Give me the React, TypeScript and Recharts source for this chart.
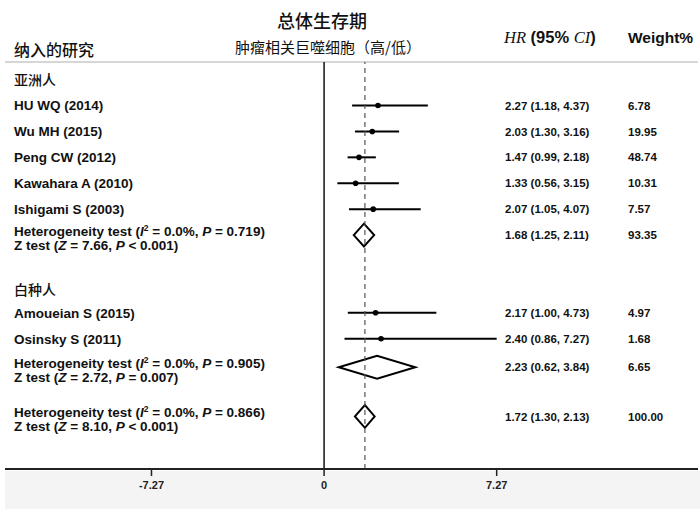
import React from "react";
import {
  ScatterChart,
  Scatter,
  XAxis,
  YAxis,
  ReferenceLine,
  ReferenceArea,
} from "recharts";

// studies (row = position in the table, 0 = first group header)
const studyNames = [
  "HU WQ (2014)",
  "Wu MH (2015)",
  "Peng CW (2012)",
  "Kawahara A (2010)",
  "Ishigami S (2003)",
  "Amoueian S (2015)",
  "Osinsky S (2011)",
];
const studyRows = [1, 2, 3, 4, 5, 9, 10];
const studyHR = [2.27, 2.03, 1.47, 1.33, 2.07, 2.17, 2.4];
const studyLo = [1.18, 1.3, 0.99, 0.56, 1.05, 1.0, 0.86];
const studyHi = [4.37, 3.16, 2.18, 3.15, 4.07, 4.73, 7.27];
const studyWeight = ["6.78", "19.95", "48.74", "10.31", "7.57", "4.97", "1.68"];

// pooled estimates
const summaryRows = [6, 11.1, 13];
const summaryHR = [1.68, 2.23, 1.72];
const summaryLo = [1.25, 0.62, 1.3];
const summaryHi = [2.11, 3.84, 2.13];
const summaryWeight = ["93.35", "6.65", "100.00"];
const hetI2 = ["0.0%", "0.0%", "0.0%"];
const hetP = ["0.719", "0.905", "0.866"];
const zValue = ["7.66", "2.72", "8.10"];
const zP = ["< 0.001", "= 0.007", "< 0.001"];

const groupNames = ["亚洲人", "白种人"];
const groupRows = [0, 8.1];

const xTicks = [-7.27, 0, 7.27];
const overallHR = 1.72;

const X_DOMAIN: [number, number] = [-13.44, 15.75];
const Y_DOMAIN: [number, number] = [-0.68, 15.03];

const SANS = "'Liberation Sans', Arial, 'Noto Sans CJK SC', sans-serif";
const CJK = "'Noto Sans CJK SC', 'Liberation Sans', sans-serif";
const SERIF = "'Liberation Serif', 'Times New Roman', serif";

type LabelRow = {
  x: number;
  y: number;
  kind: "group" | "study" | "summary";
  idx: number;
};

const labelRows: LabelRow[] = [
  ...groupRows.map((r, i) => ({ x: 0, y: r, kind: "group" as const, idx: i })),
  ...studyRows.map((r, i) => ({ x: 0, y: r, kind: "study" as const, idx: i })),
  ...summaryRows.map((r, i) => ({ x: 0, y: r, kind: "summary" as const, idx: i })),
];

const pointData = studyHR.map((hr, i) => ({ x: hr, y: studyRows[i] }));

const LEFT_X = 14;
const HR_X = 505;
const WT_X = 628;

function RowLabel(props: any) {
  const { cy, payload } = props;
  const p = payload as LabelRow;
  const base = { fontFamily: SANS, fontWeight: 700, fill: "#111" };
  if (p.kind === "group") {
    return (
      <text x={LEFT_X} y={cy} dy="0.36em" fontSize={14} fontFamily={CJK} fontWeight={500} fill="#111">
        {groupNames[p.idx]}
      </text>
    );
  }
  if (p.kind === "study") {
    const i = p.idx;
    return (
      <g>
        <text x={LEFT_X} y={cy} dy="0.36em" fontSize={13.5} {...base}>
          {studyNames[i]}
        </text>
        <text x={HR_X} y={cy} dy="0.36em" fontSize={11.5} {...base}>
          {`${studyHR[i].toFixed(2)} (${studyLo[i].toFixed(2)}, ${studyHi[i].toFixed(2)})`}
        </text>
        <text x={WT_X} y={cy} dy="0.36em" fontSize={11.5} {...base}>
          {studyWeight[i]}
        </text>
      </g>
    );
  }
  const i = p.idx;
  return (
    <g>
      <text x={LEFT_X} y={cy - 4} dy="0.36em" fontSize={13.5} {...base}>
        Heterogeneity test (<tspan fontStyle="italic">I</tspan>
        <tspan dy={-5} fontSize={8.5}>2</tspan>
        <tspan dy={5}>{` = ${hetI2[i]}, `}</tspan>
        <tspan fontStyle="italic">P</tspan>
        {` = ${hetP[i]})`}
      </text>
      <text x={LEFT_X} y={cy + 10} dy="0.36em" fontSize={13.5} {...base}>
        Z test (<tspan fontStyle="italic">Z</tspan>
        {` = ${zValue[i]}, `}
        <tspan fontStyle="italic">P</tspan>
        {` ${zP[i]})`}
      </text>
      <text x={HR_X} y={cy} dy="0.36em" fontSize={11.5} {...base}>
        {`${summaryHR[i].toFixed(2)} (${summaryLo[i].toFixed(2)}, ${summaryHi[i].toFixed(2)})`}
      </text>
      <text x={WT_X} y={cy} dy="0.36em" fontSize={11.5} {...base}>
        {summaryWeight[i]}
      </text>
    </g>
  );
}

function Diamond(hr: number, lo: number, hi: number) {
  return (props: any) => {
    const { x, y, width, height } = props;
    const peak = x + (width * (hr - lo)) / (hi - lo);
    const mid = y + height / 2;
    const pts = `${x},${mid} ${peak},${y} ${x + width},${mid} ${peak},${y + height}`;
    return <polygon points={pts} fill="none" stroke="#000" strokeWidth={2} strokeLinejoin="miter" />;
  };
}

export default function App() {
  return (
    <div
      style={{
        position: "absolute",
        left: 0,
        top: 0,
        width: 700,
        height: 511,
        background: "#fff",
        overflow: "hidden",
      }}
    >
      <div
        style={{
          position: "absolute",
          left: 5,
          top: 471,
          width: 695,
          height: 38,
          background: "#f4f4f4",
        }}
      />
      <div style={{ position: "absolute", left: 0, top: 0 }}>
        <ScatterChart width={700} height={511} margin={{ top: 62, right: 2, left: 5, bottom: 12 }}>
          <XAxis
            type="number"
            dataKey="x"
            domain={X_DOMAIN}
            allowDataOverflow
            ticks={xTicks}
            interval={0}
            height={30}
            tickSize={7}
            tickMargin={5}
            axisLine={{ stroke: "#222", strokeWidth: 2 }}
            tickLine={{ stroke: "#222", strokeWidth: 1.5 }}
            tick={{ fill: "#222", fontSize: 11, fontWeight: 700, fontFamily: SANS }}
            tickFormatter={(v: number) => (v === 0 ? "0" : v.toFixed(2))}
          />
          <YAxis type="number" dataKey="y" domain={Y_DOMAIN} reversed hide allowDataOverflow />
          <ReferenceLine y={Y_DOMAIN[0]} stroke="#c8c8c8" strokeWidth={1.5} />
          <ReferenceLine x={0} stroke="#111" strokeWidth={1.5} />
          {studyHR.map((_, i) => (
            <ReferenceLine
              key={`ci-${i}`}
              segment={[
                { x: studyLo[i], y: studyRows[i] },
                { x: studyHi[i], y: studyRows[i] },
              ]}
              stroke="#000"
              strokeWidth={2}
            />
          ))}
          {summaryHR.map((hr, i) => (
            <ReferenceArea
              key={`dia-${i}`}
              x1={summaryLo[i]}
              x2={summaryHi[i]}
              y1={summaryRows[i] - 0.44}
              y2={summaryRows[i] + 0.44}
              shape={Diamond(hr, summaryLo[i], summaryHi[i])}
            />
          ))}
          <ReferenceLine x={overallHR} stroke="#555" strokeWidth={1.2} strokeDasharray="5 4" />
          <Scatter
            data={pointData}
            isAnimationActive={false}
            shape={(p: any) => <circle cx={p.cx} cy={p.cy} r={2.8} fill="#000" />}
          />
          <Scatter data={labelRows} isAnimationActive={false} shape={RowLabel} />
        </ScatterChart>
      </div>
      <svg
        width={700}
        height={70}
        style={{ position: "absolute", left: 0, top: 0, pointerEvents: "none" }}
      >
        <text x={322} y={22} dy="0.36em" textAnchor="middle" fontSize={18} fontFamily={CJK} fontWeight={500} fill="#111">
          总体生存期
        </text>
        <text x={328} y={48} dy="0.36em" textAnchor="middle" fontSize={15} fontFamily={CJK} fill="#111">
          肿瘤相关巨噬细胞（高/低）
        </text>
        <text x={LEFT_X} y={50} dy="0.36em" fontSize={16} fontFamily={CJK} fontWeight={500} fill="#111">
          纳入的研究
        </text>
        <text x={504} y={37} dy="0.36em" fontSize={16.5} fill="#111">
          <tspan fontFamily={SERIF} fontStyle="italic">HR</tspan>
          <tspan fontFamily={SANS} fontWeight={700}> (95% </tspan>
          <tspan fontFamily={SERIF} fontStyle="italic">CI</tspan>
          <tspan fontFamily={SANS} fontWeight={700}>)</tspan>
        </text>
        <text x={WT_X} y={37} dy="0.36em" fontSize={15.5} fontFamily={SANS} fontWeight={700} fill="#111">
          Weight%
        </text>
      </svg>
    </div>
  );
}
